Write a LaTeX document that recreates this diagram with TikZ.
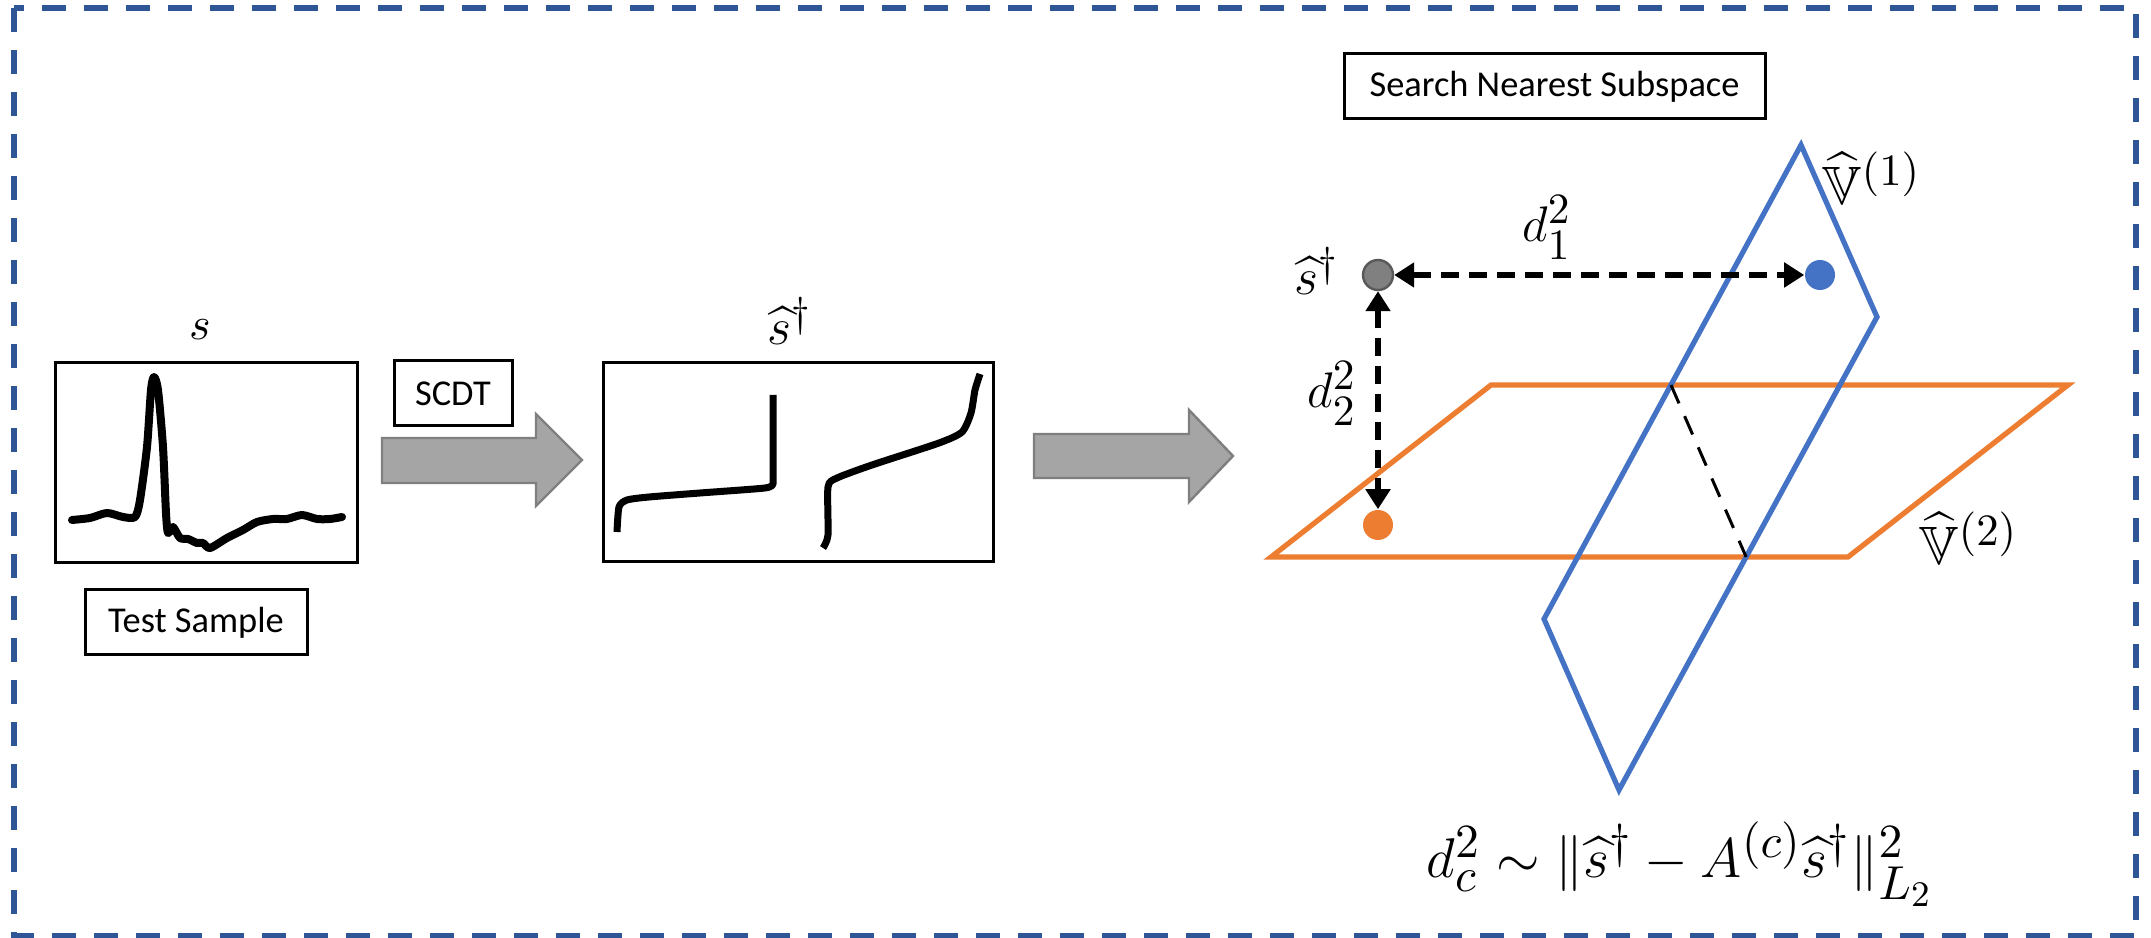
\RequirePackage{fix-cm}
\documentclass[tikz,border=0pt]{standalone}
\usepackage{amsmath,amssymb}
\usepackage{fontspec}
\newfontfamily\carlito{Carlito}
\usetikzlibrary{arrows.meta,calc}
\DeclareMathSizes{11.5}{11.5}{9.8}{7.5}
\DeclareMathSizes{12.5}{12.5}{10.8}{8}
\DeclareMathSizes{13}{13}{10.4}{8}
\DeclareMathSizes{13.5}{13.5}{11.2}{8.5}
\DeclareMathSizes{14}{14}{11.9}{9}
\definecolor{borderblue}{HTML}{2F5597}
\definecolor{planeblue}{HTML}{4472C4}
\definecolor{planeorange}{HTML}{ED7D31}
\definecolor{arrowgray}{HTML}{A5A5A5}
\definecolor{arrowedge}{HTML}{7F7F7F}
\definecolor{dotgray}{HTML}{808080}
\definecolor{dotedge}{HTML}{595959}
\begin{document}
\begin{tikzpicture}[x=0.25pt,y=-0.25pt,
  box/.style={draw=black,line width=0.75pt,inner sep=0pt},
  lbl/.style={draw=black,line width=0.75pt,inner sep=0pt,font=\carlito\fontsize{9.1}{11}\selectfont},
  mathlbl/.style={inner sep=0pt,anchor=base},
  blockarrow/.style={fill=arrowgray,draw=arrowedge,line width=0.6pt,line join=miter},
  sig/.style={line width=2pt,line cap=round,line join=round},
  plane/.style={line width=1.3pt,line join=miter},
  dot/.style={circle,inner sep=0pt,minimum size=7.5pt},
  distarrow/.style={line width=1.4pt,dash pattern=on 4.5pt off 2.5pt,{Triangle[length=5pt,width=6pt]}-{Triangle[length=5pt,width=6pt]}},
]
\useasboundingbox (0,0) rectangle (2151,938);
\draw[borderblue,line width=1.5pt,dash pattern=on 6pt off 4.5pt] (14,8) rectangle (2136,936);

% test sample
\node[box,minimum width=75.5pt,minimum height=50pt] (sigbox) at (206,463) {};
\draw[sig] plot[smooth,tension=0.45] coordinates {(72,520) (90,518) (107,513) (123,517) (135,517) (140,500) (147,447) (151,390) (154,377) (158,390) (163,447) (166,513) (168,533) (173,527) (180,538) (188,539) (197,543) (203,543) (210,548) (227,538) (243,530) (257,522) (273,519) (287,519) (302,515) (317,519) (330,519) (342,517)};
\node[mathlbl,font=\fontsize{11.5}{14}\selectfont] (slbl) at (200,340) {$s$};
\node[lbl,minimum width=55.5pt,minimum height=16.25pt] (test) at (196,622.5) {Test Sample};

% SCDT arrow
\node[lbl,minimum width=29.5pt,minimum height=16.25pt] (scdt) at (453,393.5) {SCDT};
\draw[blockarrow] (382,438) -- (536,438) -- (536,414) -- (582,460) -- (536,506) -- (536,483) -- (382,483) -- cycle;

% transformed sample
\node[box,minimum width=97.5pt,minimum height=49.75pt] (cdtbox) at (798,462.5) {};
\draw[sig,line width=1.75pt,line cap=butt] plot[smooth,tension=0.4] coordinates {(617,532) (619,507) (627,500) (649,497) (700,493) (765,488) (773,484)} -- (773,395);
\draw[sig,line width=1.75pt,line cap=butt] plot[smooth,tension=0.4] coordinates {(823,548) (828,535) (828,487) (837,478) (872,465) (939,443) (962,432) (971,413) (975,390) (980,374)};
\node[mathlbl,font=\fontsize{13}{15}\selectfont] (shatlbl) at (790,345) {$\widehat{s}^\dagger$};

\draw[blockarrow] (1034,434) -- (1189,434) -- (1189,410) -- (1233,456) -- (1189,502) -- (1189,478) -- (1034,478) -- cycle;

% subspace search
\node[lbl,minimum width=105.25pt,minimum height=16.25pt] (search) at (1554.5,86.5) {Search Nearest Subspace};

\coordinate (bt) at (1801,145);
\coordinate (br) at (1877,317);
\coordinate (bb) at (1619,790);
\coordinate (bl) at (1544,619);
\coordinate (otl) at (1491,385);
\coordinate (otr) at (2068,385);
\coordinate (obr) at (1848,557);
\coordinate (obl) at (1271,557);
\draw[plane,planeorange] (otl) -- (otr) -- (obr) -- (obl) -- cycle;
\draw[plane,planeblue] (bt) -- (br) -- (bb) -- (bl) -- cycle;
\coordinate (x1) at (intersection of bt--bl and otl--otr);
\coordinate (x2) at (intersection of br--bb and obl--obr);
\draw[line width=0.75pt,dash pattern=on 5pt off 3.5pt] (x1) -- (x2);

\node[dot,fill=dotgray,draw=dotedge,line width=0.6pt] (g) at (1378,275) {};
\node[dot,fill=planeblue] (b) at (1820,275) {};
\node[dot,fill=planeorange] (o) at (1378,525) {};
\draw[distarrow] (g) -- (b);
\draw[distarrow] (g) -- (o);

\node[mathlbl,font=\fontsize{13}{15}\selectfont] (shat2) at (1317,295) {$\widehat{s}^\dagger$};
\node[mathlbl,font=\fontsize{12.5}{14}\selectfont] (d1) at (1547,242) {$d_1^2$};
\node[mathlbl,font=\fontsize{12.5}{14}\selectfont] (d2) at (1332,408) {$d_2^2$};
\node[mathlbl,font=\fontsize{13.5}{15}\selectfont] (v1) at (1872,205) {$\widehat{\mathbb{V}}^{(1)}$};
\node[mathlbl,font=\fontsize{13.5}{15}\selectfont] (v2) at (1969,565) {$\widehat{\mathbb{V}}^{(2)}$};
\node[mathlbl,font=\fontsize{14}{16}\selectfont] (formula) at (1680,878) {$d_c^2 \sim \|\widehat{s}^\dagger - A^{(c)}\widehat{s}^\dagger\|_{L_2}^2$};
\end{tikzpicture}
\end{document}
